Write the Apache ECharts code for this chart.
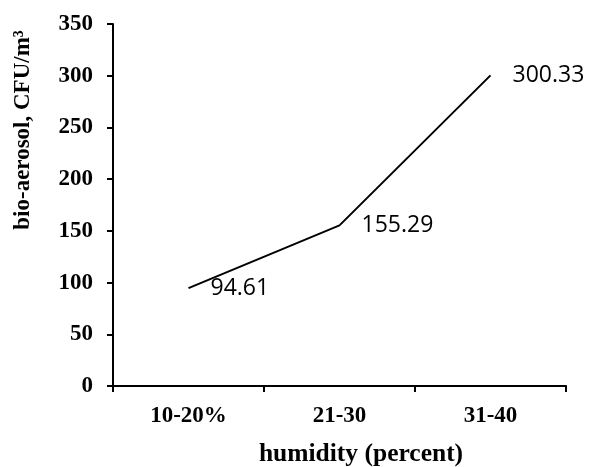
<!DOCTYPE html>
<html>
<head>
<meta charset="utf-8">
<script src="https://cdn.jsdelivr.net/npm/echarts@6/dist/echarts.min.js"></script>
<style>
html,body{margin:0;padding:0;background:#fff;}
#chart{width:589px;height:467px;}
</style>
</head>
<body>
<div id="chart"></div>
<script>
const categories = ['10-20%', '21-30', '31-40'];
const values = [94.61, 155.29, 300.33];
const yTicks = { min: 0, max: 350, interval: 50 };
const xName = 'humidity (percent)';
const yName = 'bio-aerosol, CFU/m\u00B3';

const serif = '"Liberation Serif", "Times New Roman", serif';
const chart = echarts.init(document.getElementById('chart'));
chart.setOption({
  animation: false,
  backgroundColor: '#fff',
  grid: { left: 113, right: 23, top: 24, bottom: 81, containLabel: false, outerBoundsMode: 'none' },
  xAxis: {
    type: 'category',
    data: categories,
    boundaryGap: true,
    name: xName,
    nameLocation: 'middle',
    nameGap: 55,
    nameTextStyle: { fontFamily: serif, fontWeight: 'bold', fontSize: 25.5, color: '#000', padding: [0, 0, 0, 43] },
    axisLine: { lineStyle: { color: '#000', width: 2 } },
    axisTick: { show: true, length: 6, alignWithLabel: false, lineStyle: { color: '#000', width: 2 } },
    axisLabel: { fontFamily: serif, fontWeight: 'bold', fontSize: 23, color: '#000', margin: 19 },
    splitLine: { show: false }
  },
  yAxis: {
    type: 'value',
    min: yTicks.min, max: yTicks.max, interval: yTicks.interval,
    axisLine: { show: true, lineStyle: { color: '#000', width: 2 } },
    axisTick: { show: true, length: 6, lineStyle: { color: '#000', width: 2 } },
    axisLabel: { fontFamily: serif, fontWeight: 'bold', fontSize: 23, color: '#000', margin: 20 },
    splitLine: { show: false }
  },
  graphic: [{
    type: 'text',
    x: 23, y: 130,
    rotation: Math.PI / 2,
    style: {
      text: yName,
      fontFamily: serif, fontWeight: 'bold', fontSize: 23, fill: '#000',
      align: 'center', verticalAlign: 'middle'
    }
  }],
  series: [{
    type: 'line',
    data: values,
    showSymbol: true,
    symbol: 'circle',
    symbolSize: 0,
    lineStyle: { color: '#000', width: 2 },
    itemStyle: { color: '#000' },
    label: {
      show: true,
      position: 'right',
      distance: 22,
      fontFamily: '"Open Sans", sans-serif',
      fontSize: 23,
      color: '#000',
      formatter: p => p.value.toFixed(2)
    }
  }]
});
</script>
</body>
</html>
